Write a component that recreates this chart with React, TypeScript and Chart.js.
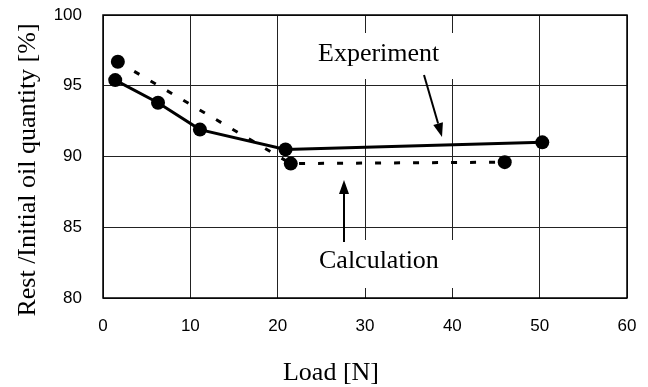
import React, { useEffect, useRef } from "react";
import { Chart, registerables } from "chart.js";

Chart.register(...registerables);

const loadExperiment = [1.4, 6.3, 11.1, 20.9, 50.3];
const restExperiment = [95.4, 93.8, 91.9, 90.5, 91.0];
const loadCalculation = [1.7, 21.5, 46.0];
const restCalculation = [96.7, 89.5, 89.6];

const xTicks = [0, 10, 20, 30, 40, 50, 60];
const yTicks = [80, 85, 90, 95, 100];

const xTitle = "Load [N]";
const yTitle = "Rest /Initial oil quantity [%]";
const experimentLabel = "Experiment";
const calculationLabel = "Calculation";

const SERIF = "'Liberation Serif', 'Times New Roman', serif";
const SANS = "'Liberation Sans', Arial, sans-serif";

const AREA = { left: 103, right: 627, top: 15, bottom: 298 };

function arrow(ctx: CanvasRenderingContext2D, x1: number, y1: number, x2: number, y2: number) {
  const ang = Math.atan2(y2 - y1, x2 - x1);
  const hl = 14;
  const hw = 5;
  const bx = x2 - hl * Math.cos(ang);
  const by = y2 - hl * Math.sin(ang);
  ctx.save();
  ctx.strokeStyle = "#000";
  ctx.fillStyle = "#000";
  ctx.lineWidth = 2;
  ctx.beginPath();
  ctx.moveTo(x1, y1);
  ctx.lineTo(bx, by);
  ctx.stroke();
  ctx.beginPath();
  ctx.moveTo(x2, y2);
  ctx.lineTo(bx + hw * Math.sin(ang), by - hw * Math.cos(ang));
  ctx.lineTo(bx - hw * Math.sin(ang), by + hw * Math.cos(ang));
  ctx.closePath();
  ctx.fill();
  ctx.restore();
}

const areaPlugin = {
  id: "fixArea",
  afterLayout(chart: any) {
    const { left, right, top, bottom } = AREA;
    chart.chartArea = { left, right, top, bottom, width: right - left, height: bottom - top };
    const xs = chart.scales.x;
    xs.left = left; xs.right = right; xs.width = right - left;
    xs.top = bottom; xs.bottom = chart.height; xs.height = chart.height - bottom;
    xs.configure();
    const ys = chart.scales.y;
    ys.left = 0; ys.right = left; ys.width = left;
    ys.top = top; ys.bottom = bottom; ys.height = bottom - top;
    ys.configure();
  },
};

const decorPlugin = {
  id: "decor",
  beforeDatasetsDraw(chart: any) {
    const ctx: CanvasRenderingContext2D = chart.ctx;
    const a = chart.chartArea;
    ctx.save();
    ctx.fillStyle = "#fff";
    ctx.fillRect(310, 33, 148, 46);
    ctx.fillRect(310, 240, 148, 48);
    ctx.strokeStyle = "#000";
    ctx.lineWidth = 1.5;
    ctx.strokeRect(a.left, a.top, a.right - a.left, a.bottom - a.top);
    ctx.fillStyle = "#000";
    ctx.font = `26px ${SERIF}`;
    ctx.textAlign = "left";
    ctx.textBaseline = "alphabetic";
    ctx.fillText(experimentLabel, 318, 61);
    ctx.fillText(calculationLabel, 319, 268);
    ctx.textAlign = "center";
    ctx.fillText(xTitle, 331, 380);
    ctx.save();
    ctx.translate(35, 170);
    ctx.rotate(-Math.PI / 2);
    ctx.fillText(yTitle, 0, 0);
    ctx.restore();
    ctx.restore();
    arrow(ctx, 424, 75, 442, 137);
    arrow(ctx, 344, 242, 344, 180);
  },
};

export default function App() {
  const ref = useRef<HTMLCanvasElement | null>(null);
  useEffect(() => {
    if (!ref.current) return;
    const chart = new Chart(ref.current, {
      type: "scatter",
      data: {
        datasets: [
          {
            label: experimentLabel,
            data: loadExperiment.map((x, i) => ({ x, y: restExperiment[i] })),
            showLine: true,
            borderColor: "#000",
            backgroundColor: "#000",
            borderWidth: 3,
            pointRadius: 7,
            pointBorderWidth: 0,
            pointBackgroundColor: "#000",
          },
          {
            label: calculationLabel,
            data: loadCalculation.map((x, i) => ({ x, y: restCalculation[i] })),
            showLine: true,
            borderColor: "#000",
            backgroundColor: "#000",
            borderWidth: 3,
            borderDash: [6, 13],
            pointRadius: 7,
            pointBorderWidth: 0,
            pointBackgroundColor: "#000",
          },
        ],
      },
      options: {
        responsive: false,
        animation: false,
        layout: { autoPadding: false, padding: 0 },
        plugins: { legend: { display: false }, tooltip: { enabled: false } },
        scales: {
          x: {
            type: "linear",
            min: xTicks[0],
            max: xTicks[xTicks.length - 1],
            afterBuildTicks: (s: any) => {
              s.ticks = xTicks.map((v) => ({ value: v }));
            },
            grid: { color: "#222", lineWidth: 1, drawTicks: false },
            border: { display: false },
            ticks: { color: "#000", font: { family: SANS, size: 17 }, padding: 18 },
          },
          y: {
            type: "linear",
            min: yTicks[0],
            max: yTicks[yTicks.length - 1],
            afterBuildTicks: (s: any) => {
              s.ticks = yTicks.map((v) => ({ value: v }));
            },
            grid: { color: "#222", lineWidth: 1, drawTicks: false },
            border: { display: false },
            ticks: { color: "#000", font: { family: SANS, size: 17 }, padding: 21 },
          },
        },
      },
      plugins: [areaPlugin, decorPlugin],
    });
    return () => chart.destroy();
  }, []);
  return (
    <div style={{ position: "fixed", left: 0, top: 0, width: 648, height: 387, background: "#fff" }}>
      <canvas ref={ref} width={648} height={387} style={{ display: "block" }} />
    </div>
  );
}
